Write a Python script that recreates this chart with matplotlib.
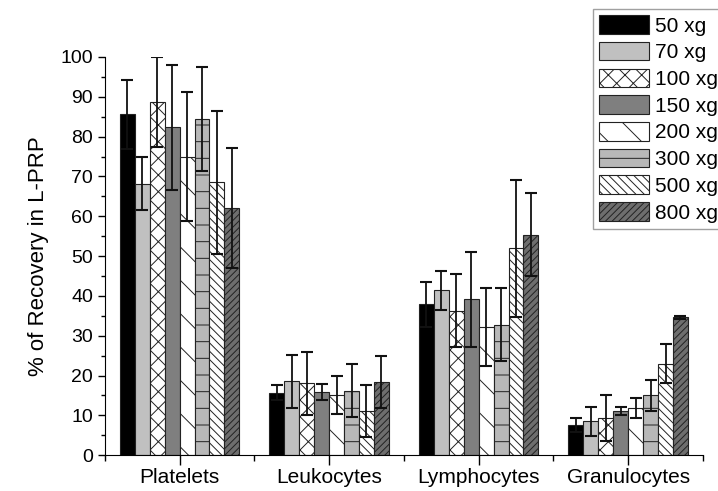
import numpy as np
import matplotlib
matplotlib.use("Agg")
import matplotlib.pyplot as plt

plt.rcParams['font.family'] = ['Liberation Sans', 'DejaVu Sans']
plt.rcParams['hatch.linewidth'] = 0.7

# Dados
categories = ["Platelets", "Leukocytes", "Lymphocytes", "Granulocytes"]
speeds = ["50 xg", "70 xg", "100 xg", "150 xg", "200 xg", "300 xg", "500 xg", "800 xg"]

# valores médios por velocidade (ordem: Platelets, Leukocytes, Lymphocytes, Granulocytes)
means = {
    "50 xg":  [85.6, 15.7, 37.9, 7.6],
    "70 xg":  [68.2, 18.5, 41.4, 8.5],
    "100 xg": [88.6, 18.1, 36.3, 9.3],
    "150 xg": [82.3, 15.9, 39.1, 11.0],
    "200 xg": [74.9, 15.1, 32.2, 11.8],
    "300 xg": [84.4, 16.2, 32.8, 15.0],
    "500 xg": [68.5, 11.1, 51.9, 23.0],
    "800 xg": [62.1, 18.3, 55.4, 34.6],
}
errors = {
    "50 xg":  [8.6, 1.9, 5.7, 1.8],
    "70 xg":  [6.7, 6.6, 4.9, 3.7],
    "100 xg": [11.3, 7.9, 9.1, 5.8],
    "150 xg": [15.7, 2.0, 12.0, 1.0],
    "200 xg": [16.2, 4.8, 9.8, 2.5],
    "300 xg": [13.0, 6.7, 9.2, 3.8],
    "500 xg": [18.0, 6.5, 17.1, 5.0],
    "800 xg": [15.0, 6.5, 10.5, 0.3],
}

# estilo de cada série (cor, hachura)
styles = [
    ("#000000", None),
    ("#c0c0c0", None),
    ("#ffffff", "xx"),
    ("#7f7f7f", None),
    ("#ffffff", "\\"),
    ("#b8b8b8", "-"),
    ("#ffffff", "\\\\\\\\"),
    ("#6e6e6e", "/////"),
]

fig = plt.figure(figsize=(7.18, 4.91), dpi=100)
ax = fig.add_axes([0.146, 0.073, 0.833, 0.811])

x = np.arange(1, len(categories) + 1)
width = 0.1
for i, s in enumerate(speeds):
    pos = x - 0.35 + i * width
    color, hatch = styles[i]
    ax.bar(pos, means[s], width, color=color, hatch=hatch, edgecolor="#222222",
           linewidth=0.8, label=s, zorder=2)
    ax.errorbar(pos, means[s], yerr=errors[s], fmt="none", ecolor="#111111",
                elinewidth=1.3, capsize=4, capthick=1.5, zorder=3)

ax.set_xlim(0.5, 4.5)
ax.set_ylim(0, 100)
ax.set_xticks(x)
ax.set_xticklabels(categories, fontsize=15)
ax.set_xticks(np.arange(0.5, 4.6, 1.0), minor=True)
ax.set_yticks(np.arange(0, 101, 10))
ax.set_yticks(np.arange(0, 101, 5), minor=True)
ax.tick_params(axis="y", labelsize=14, length=5, width=1)
ax.tick_params(axis="y", which="minor", length=3, width=1)
ax.tick_params(axis="x", length=7, width=1, pad=2)
ax.tick_params(axis="x", which="minor", length=4, width=1)
ax.spines["top"].set_visible(False)
ax.spines["right"].set_visible(False)
ax.set_ylabel("% of Recovery in L-PRP", fontsize=16, labelpad=8)

leg = fig.legend(loc="upper left", bbox_to_anchor=(0.826, 0.982), fontsize=15,
                 frameon=True, fancybox=False, edgecolor="#888888",
                 handlelength=2.4, handleheight=1.0, handletextpad=0.25,
                 labelspacing=0.3, borderpad=0.3, borderaxespad=0)
leg.get_frame().set_linewidth(1.0)

fig.savefig("out.png", dpi=100)
